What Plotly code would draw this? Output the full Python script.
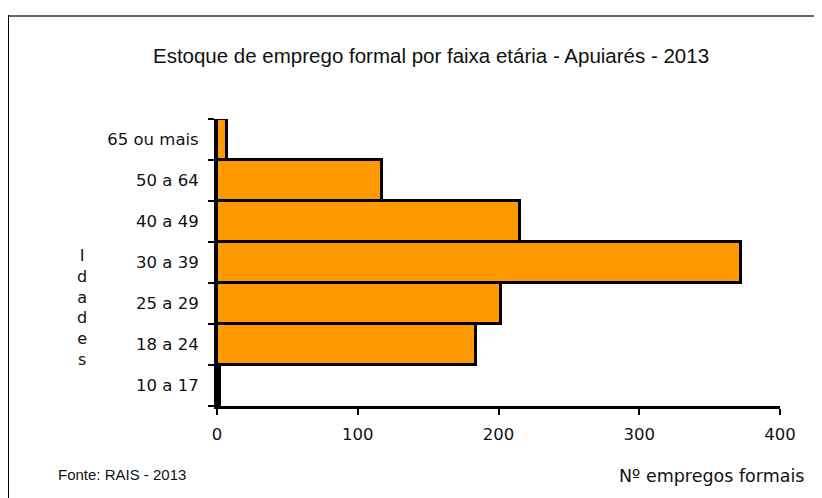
import plotly.graph_objects as go

# Data
categories = ["10 a 17", "18 a 24", "25 a 29", "30 a 39", "40 a 49", "50 a 64", "65 ou mais"]
values = [2, 184, 202, 372, 215, 117, 7]
x_ticks = [0, 100, 200, 300, 400]
title_text = "Estoque de emprego formal por faixa etária - Apuiarés - 2013"
y_title = "Idades"
x_title = "Nº empregos formais"
source_text = "Fonte: RAIS - 2013"

# the page body adds an 8px margin; work in window pixel coordinates
OFF = 8
W, H = 822 - OFF, 498 - OFF
ML = 217 - OFF
MR = W - (780 - OFF)
MT = 119 - OFF
MB = H - (406 - OFF)
PW, PH = W - ML - MR, H - MT - MB


def px(x):
    return (x - OFF - ML) / PW


def py(y):
    return (H - MB - (y - OFF)) / PH


fig = go.Figure(
    go.Bar(
        y=categories,
        x=values,
        orientation="h",
        marker=dict(color="#FF9900", line=dict(color="black", width=3)),
        hoverinfo="x+y",
    )
)

tick_font = dict(family="DejaVu Sans, Liberation Sans, Arial", size=16.5, color="#111")

fig.update_layout(
    width=W,
    height=H,
    margin=dict(l=ML, r=MR, t=MT, b=MB, autoexpand=False),
    paper_bgcolor="white",
    plot_bgcolor="white",
    bargap=0,
    showlegend=False,
    title=dict(
        text=title_text,
        x=(431 - OFF) / W,
        xanchor="center",
        y=1 - (56 - OFF) / H,
        yanchor="middle",
        font=dict(family="Liberation Sans, Arial", size=20.5, color="#111"),
    ),
    xaxis=dict(
        range=[0, 400],
        tickvals=x_ticks,
        ticktext=[str(v) for v in x_ticks],
        showgrid=False,
        zeroline=False,
        showline=True,
        linecolor="black",
        linewidth=3,
        ticks="outside",
        ticklen=6,
        tickwidth=2,
        tickcolor="black",
        tickfont=tick_font,
        ticklabelstandoff=5,
    ),
    yaxis=dict(
        type="category",
        categoryorder="array",
        categoryarray=categories,
        showgrid=False,
        zeroline=False,
        showline=True,
        linecolor="black",
        linewidth=3,
        ticks="outside",
        tickson="boundaries",
        ticklen=6,
        tickwidth=2,
        tickcolor="black",
        tickfont=tick_font,
        ticklabelstandoff=12,
    ),
    shapes=[
        dict(type="line", xref="paper", yref="paper", x0=px(8), x1=px(840), y0=py(16), y1=py(16),
             line=dict(color="#666", width=2)),
        dict(type="line", xref="paper", yref="paper", x0=px(8), x1=px(8), y0=py(15), y1=py(510),
             line=dict(color="black", width=2)),
    ],
    annotations=[
        dict(text="<br>".join(list(y_title)), xref="paper", yref="paper", x=px(82), y=py(307),
             xanchor="center", yanchor="middle", showarrow=False, align="center",
             font=dict(family="DejaVu Sans, Arial", size=16, color="#111")),
        dict(text=source_text, xref="paper", yref="paper", x=px(56), y=py(474),
             xanchor="left", yanchor="middle", showarrow=False,
             font=dict(family="Liberation Sans, Arial", size=15, color="#111")),
        dict(text=x_title, xref="paper", yref="paper", x=px(806), y=py(476),
             xanchor="right", yanchor="middle", showarrow=False,
             font=dict(family="DejaVu Sans, Arial", size=17.5, color="#111")),
    ],
)

fig.write_html("out.html")
